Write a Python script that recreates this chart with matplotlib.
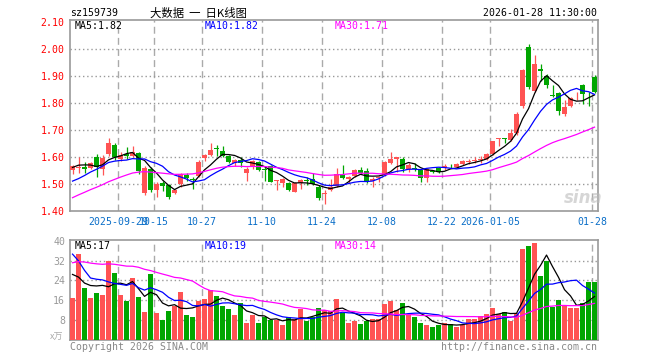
import numpy as np
import pandas as pd
import matplotlib
matplotlib.use("Agg")
import matplotlib.pyplot as plt

# daily bars of sz159739, 2025-09-17 .. 2026-01-28
opens = [1.553, 1.558, 1.562, 1.560, 1.600, 1.557, 1.610, 1.645, 1.592, 1.610,
         1.605, 1.613, 1.465, 1.555, 1.478, 1.503, 1.496, 1.465, 1.499, 1.533,
         1.520, 1.529, 1.595, 1.606, 1.631, 1.623, 1.602, 1.577, 1.590, 1.541,
         1.563, 1.581, 1.553, 1.567, 1.511, 1.505, 1.502, 1.472, 1.503, 1.514,
         1.520, 1.490, 1.461, 1.477, 1.492, 1.532, 1.519, 1.528, 1.553, 1.549,
         1.512, 1.522, 1.533, 1.577, 1.594, 1.594, 1.555, 1.559, 1.550, 1.521,
         1.549, 1.558, 1.558, 1.566, 1.563, 1.574, 1.582, 1.586, 1.590, 1.593,
         1.611, 1.666, 1.668, 1.663, 1.687, 1.788, 2.008, 1.845, 1.925, 1.900,
         1.828, 1.835, 1.757, 1.788, 1.827, 1.867, 1.829, 1.897]
highs = [1.570, 1.600, 1.580, 1.580, 1.610, 1.607, 1.671, 1.650, 1.617, 1.637,
         1.641, 1.617, 1.568, 1.562, 1.507, 1.511, 1.501, 1.483, 1.540, 1.540,
         1.527, 1.587, 1.610, 1.653, 1.645, 1.642, 1.607, 1.593, 1.599, 1.562,
         1.590, 1.584, 1.565, 1.571, 1.514, 1.522, 1.507, 1.507, 1.519, 1.526,
         1.541, 1.495, 1.476, 1.520, 1.560, 1.571, 1.531, 1.557, 1.561, 1.560,
         1.524, 1.531, 1.584, 1.617, 1.599, 1.598, 1.579, 1.577, 1.556, 1.560,
         1.552, 1.562, 1.572, 1.572, 1.577, 1.588, 1.594, 1.600, 1.605, 1.614,
         1.660, 1.670, 1.670, 1.704, 1.765, 1.925, 2.016, 1.976, 1.942, 1.905,
         1.865, 1.840, 1.810, 1.822, 1.840, 1.871, 1.840, 1.901]
lows = [1.535, 1.540, 1.540, 1.555, 1.525, 1.533, 1.605, 1.590, 1.583, 1.592,
        1.598, 1.538, 1.460, 1.471, 1.450, 1.473, 1.446, 1.462, 1.489, 1.511,
        1.483, 1.524, 1.584, 1.603, 1.602, 1.599, 1.577, 1.566, 1.564, 1.510,
        1.557, 1.549, 1.510, 1.506, 1.476, 1.489, 1.474, 1.469, 1.483, 1.496,
        1.496, 1.441, 1.425, 1.475, 1.488, 1.517, 1.503, 1.524, 1.536, 1.505,
        1.487, 1.507, 1.530, 1.574, 1.545, 1.544, 1.546, 1.549, 1.508, 1.508,
        1.541, 1.540, 1.553, 1.558, 1.559, 1.570, 1.573, 1.577, 1.578, 1.590,
        1.606, 1.640, 1.652, 1.658, 1.682, 1.781, 1.852, 1.840, 1.882, 1.853,
        1.820, 1.756, 1.750, 1.783, 1.812, 1.797, 1.787, 1.835]
closes = [1.565, 1.562, 1.555, 1.578, 1.562, 1.597, 1.653, 1.600, 1.606, 1.604,
          1.619, 1.548, 1.558, 1.476, 1.500, 1.491, 1.450, 1.479, 1.535, 1.523,
          1.515, 1.582, 1.606, 1.625, 1.629, 1.603, 1.580, 1.590, 1.578, 1.555,
          1.584, 1.553, 1.551, 1.509, 1.514, 1.517, 1.476, 1.502, 1.513, 1.511,
          1.501, 1.447, 1.467, 1.488, 1.538, 1.523, 1.524, 1.553, 1.540, 1.508,
          1.519, 1.527, 1.580, 1.592, 1.598, 1.555, 1.571, 1.557, 1.521, 1.556,
          1.545, 1.544, 1.568, 1.565, 1.573, 1.584, 1.585, 1.590, 1.594, 1.609,
          1.657, 1.668, 1.666, 1.687, 1.760, 1.920, 1.858, 1.942, 1.917, 1.864,
          1.825, 1.771, 1.786, 1.818, 1.830, 1.831, 1.827, 1.840]
# volume, 万手
volumes = [17.1, 34.7, 20.9, 17.1, 19.1, 18.3, 31.9, 26.9, 18.3, 15.9,
           24.8, 17.5, 11.4, 26.5, 11.0, 8.1, 11.8, 13.8, 19.5, 10.2,
           9.4, 15.9, 16.7, 20.1, 17.9, 13.8, 12.6, 10.2, 15.1, 6.9,
           10.2, 6.9, 9.4, 8.1, 8.1, 6.1, 9.4, 8.5, 12.6, 7.7,
           9.4, 13.0, 12.2, 11.5, 16.6, 11.0, 6.9, 7.7, 6.5, 7.7,
           8.5, 8.5, 14.7, 15.6, 11.9, 15.1, 10.2, 9.4, 6.9, 6.1,
           5.3, 6.1, 6.9, 6.5, 5.3, 6.1, 8.5, 8.5, 9.6, 10.6,
           13.0, 10.6, 11.4, 7.7, 11.0, 36.6, 38.0, 39.1, 25.6, 31.9,
           13.4, 16.3, 14.2, 13.0, 13.0, 15.1, 23.3, 23.3]

# earlier sessions (not drawn), only feed the moving averages
prior_closes = [1.25, 1.27, 1.28, 1.30, 1.31, 1.33, 1.34, 1.35, 1.37, 1.40,
                1.45, 1.50, 1.53, 1.56, 1.55, 1.52, 1.54, 1.53, 1.50, 1.49,
                1.47, 1.44, 1.45, 1.46, 1.48, 1.52, 1.55, 1.58, 1.59]
prior_volumes = [22, 25, 30, 28, 24, 26, 33, 29, 27, 26,
                 30, 36, 42, 33, 28, 31, 35, 27, 29, 27,
                 62, 59, 48, 24, 21, 40, 33, 22, 20]

tick_bars = [8, 14, 22, 32, 42, 52, 62, 70, 87]
tick_labels = ["2025-09-29", "10-15", "10-27", "11-10", "11-24",
               "12-08", "12-22", "2026-01-05", "01-28"]
price_ma_text = ["MA5:1.82", "MA10:1.82", "MA30:1.71"]
vol_ma_text = ["MA5:17", "MA10:19", "MA30:14"]

RED = "#ff5353"
GREEN = "#00a600"
MA_COLORS = ["black", "#0000ff", "#ff00ff"]
MONO = "DejaVu Sans Mono"
W, H = 660, 360


def fx(px):
    return px / W


def fy(py):
    return 1 - py / H


o = np.array(opens)
h = np.array(highs)
l = np.array(lows)
c = np.array(closes)
v = np.array(volumes)
n = len(c)
x = np.arange(n)
colors = np.where(c >= o, RED, GREEN)

all_c = pd.Series(prior_closes + closes)
all_v = pd.Series(prior_volumes + volumes)
price_ma = [all_c.rolling(p).mean().to_numpy()[-n:] for p in (5, 10, 30)]
vol_ma = [all_v.rolling(p).mean().to_numpy()[-n:] for p in (5, 10, 30)]

fig = plt.figure(figsize=(W / 100, H / 100), dpi=100)
ax = fig.add_axes([fx(70), fy(211), fx(528), 191 / H])
axv = fig.add_axes([fx(70), fy(340), fx(528), 100 / H])

grid_x = [b - 0.4 for b in tick_bars]
for a in (ax, axv):
    a.set_xlim(-0.42, n - 0.42)
    for s in a.spines.values():
        s.set_color("#999999")
        s.set_linewidth(1.2)
    a.set_xticks(grid_x)
    a.tick_params(length=0)
    for gx in grid_x:
        a.axvline(gx, color="#aaaaaa", lw=1, ls=(0, (5, 3)), zorder=0)

# price panel
ax.set_ylim(1.40, 2.106)
yt = np.round(np.arange(1.4, 2.101, 0.1), 2)
ax.set_yticks(yt)
ax.set_yticklabels([f"{t:.2f}" for t in yt], color="#ff0000",
                   fontsize=7.1, family=MONO)
for t in yt[1:-1]:
    ax.axhline(t, color="#999999", lw=1, ls=(0, (1, 2)), zorder=0)
ax.set_xticklabels(tick_labels, color="#0a6ec8", fontsize=7.1, family=MONO)
ax.tick_params(axis="x", pad=4)
ax.tick_params(axis="y", pad=4)

ax.vlines(x, l, h, colors=colors, lw=0.9, zorder=2)
body = np.maximum(np.abs(c - o), 0.003)
ax.bar(x, body, bottom=np.minimum(o, c), width=0.8, color=colors,
       linewidth=0, zorder=3)
for ma, col in zip(price_ma, MA_COLORS):
    ax.plot(x, ma, color=col, lw=0.9, zorder=4)

for txt, col, px in zip(price_ma_text, MA_COLORS, (75, 205, 335)):
    fig.text(fx(px), fy(26), txt, color=col, fontsize=7.1, family=MONO,
             va="center")
fig.text(fx(583), fy(198), "sina", color="#bbbbbb", fontsize=12,
         style="italic", weight="bold", ha="center", va="center", alpha=0.6)

# volume panel
axv.set_ylim(0, 40.3)
vt = [8, 16, 24, 32, 40]
axv.set_yticks(vt)
axv.set_yticklabels([str(t) for t in vt], color="#999999", fontsize=7.1,
                    family=MONO)
for t in vt[:-1]:
    axv.axhline(t, color="#999999", lw=1, ls=(0, (1, 2)), zorder=0)
axv.set_xticklabels([])
axv.bar(x, v, width=0.8, color=colors, linewidth=0, zorder=3)
for ma, col in zip(vol_ma, MA_COLORS):
    axv.plot(x, ma, color=col, lw=0.9, zorder=4)
for txt, col, px in zip(vol_ma_text, MA_COLORS, (75, 205, 335)):
    fig.text(fx(px), fy(246), txt, color=col, fontsize=7.1, family=MONO,
             va="center")
fig.text(fx(63), fy(337), "x万", color="#aaaaaa", fontsize=6.5,
         family=["Noto Sans CJK SC", "DejaVu Sans"], ha="right", va="center")

# header / footer
fig.text(fx(70), fy(13), "sz159739", fontsize=7.1, family=MONO, va="center")
fig.text(fx(150), fy(13), "大数据  一  日K线图", fontsize=8.2,
         family=["Noto Sans CJK SC", "DejaVu Sans"], va="center")
fig.text(fx(597), fy(13), "2026-01-28 11:30:00", fontsize=7.1, family=MONO,
         va="center", ha="right")
fig.text(fx(70), fy(347), "Copyright 2026 SINA.COM", color="#888888",
         fontsize=7.1, family=MONO, va="center")
fig.text(fx(597), fy(347), "http://finance.sina.com.cn", color="#888888",
         fontsize=7.1, family=MONO, va="center", ha="right")

fig.savefig("out.png", dpi=100)
